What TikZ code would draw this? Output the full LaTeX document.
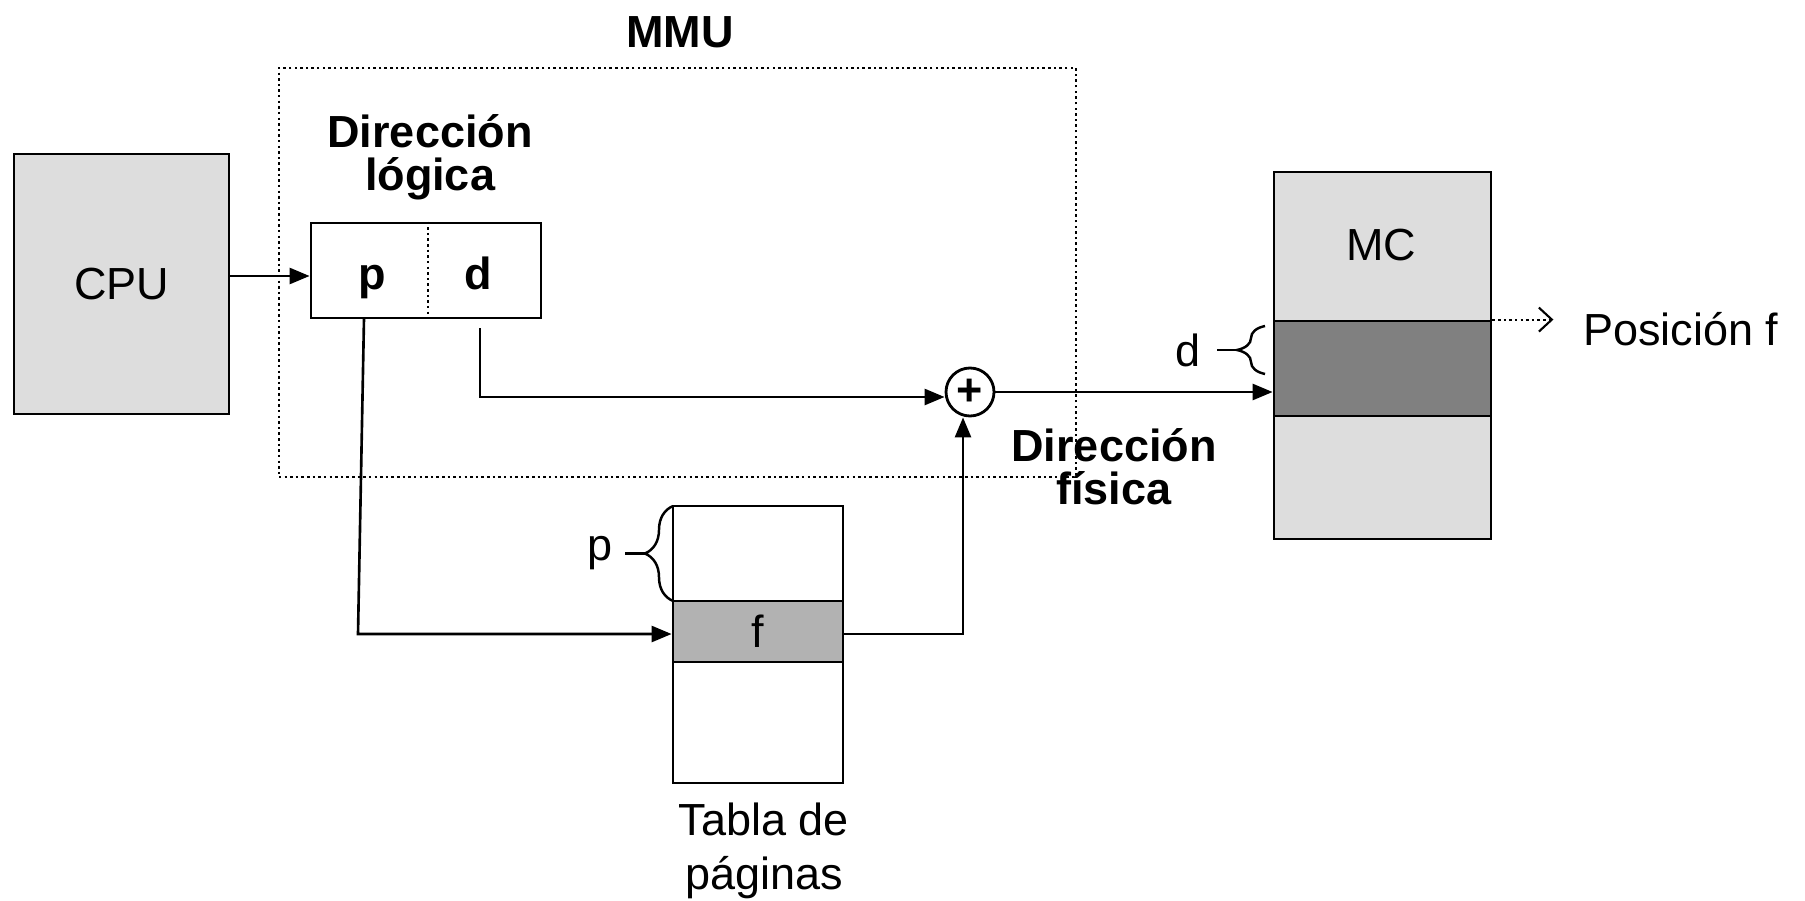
\documentclass[tikz,border=0pt]{standalone}
\usepackage{fontspec}
\setmainfont{Liberation Sans}
\usepackage{xcolor}
\usetikzlibrary{positioning, arrows.meta, decorations.pathreplacing}

\definecolor{cpugray}{HTML}{DDDDDD}
\definecolor{framegray}{HTML}{B2B2B2}
\definecolor{pagegray}{HTML}{808080}

\begin{document}
\begin{tikzpicture}[node distance = 0.1, font = \fontsize{12.8}{12.2}\selectfont]
            \tikzstyle{box} = [draw = black, line width = 0.8pt, rectangle, inner sep = 0pt]
            \tikzstyle{txt} = [inner sep = 1pt, align = center]
            \tikzstyle{heading} = [txt, font = \fontsize{12.8}{12.2}\selectfont\bfseries]
            \tikzstyle{flow} = [-{Triangle[length = 0.2cm, width = 0.16cm]}, line width = 0.75pt]
            \tikzstyle{dots} = [line width = 0.6pt, dash pattern = on 0.7pt off 0.9pt]
            \tikzstyle{curly} = [decorate, decoration = {brace, amplitude = 0.28cm}, line width = 0.7pt]

            \useasboundingbox (0, 0) rectangle (18.05, 9.00);

            \node [dots, draw, minimum width = 7.97cm, minimum height = 4.09cm] (MMU) at (6.775, 6.275) {};
            \node [heading] (MMUlabel) at (6.80, 8.68) {MMU};

            \node [box, fill = cpugray, minimum width = 2.15cm, minimum height = 2.60cm] (CPU) at (1.215, 6.16) {CPU};

            \node [heading] (logic) at (4.30, 7.43) {Dirección\\lógica};
            \node [box, minimum width = 2.30cm, minimum height = 0.95cm] (addr) at (4.26, 6.295) {};
            \node [heading, anchor = base] (p) at (3.72, 6.11) {p};
            \node [heading, anchor = base] (d) at (4.78, 6.11) {d};
            \coordinate (split) at (4.28, 6.295);
            \draw [dots] (split |- addr.north) -- (split |- addr.south);

            \node [circle, draw, line width = 0.8pt, minimum size = 0.48cm, inner sep = 0pt] (plus) at (9.70, 5.08) {\textbf{+}};

            \node [box, fill = white, minimum width = 1.70cm, minimum height = 2.77cm] (table) at (7.58, 2.555) {};
            \node [box, fill = framegray, minimum width = 1.70cm, minimum height = 0.61cm] (frame) at (7.58, 2.685) {f};
            \node [txt, font = \fontsize{12.8}{15.4}\selectfont] (tablelabel) at (7.64, 0.49) {Tabla de\\páginas};

            \node [box, fill = cpugray, minimum width = 2.17cm, minimum height = 3.67cm] (MC) at (13.825, 5.445) {};
            \node [box, fill = pagegray, minimum width = 2.17cm, minimum height = 0.95cm] (page) at (13.825, 5.315) {};
            \node [txt] (MClabel) at (13.81, 6.55) {MC};

            \node [heading] (phys) at (11.14, 4.33) {Dirección\\física};

            \coordinate (cpuout) at ([yshift = -0.055cm]addr.west);
            \draw [flow] (CPU.east |- cpuout) -- (cpuout);
            \coordinate (pstart) at (3.64, 5.82);
            \coordinate (pturn) at (3.58, 2.66);
            \draw [flow] (pstart) -- (pturn) -- ([yshift = -0.025cm]frame.west);
            \coordinate (dstart) at (4.80, 5.72);
            \draw [flow] (dstart) |- ([yshift = -0.05cm]plus.west);
            \draw [flow] ([yshift = -0.025cm]frame.east) -| ([xshift = -0.07cm]plus.south);
            \draw [flow] (plus.east) -- (plus.east -| MC.west);

            \draw [dots, -{Straight Barb[length = 0.13cm, width = 0.24cm]}] (page.north east) -- ++(0.61, 0) coordinate (posend);
            \node [txt, anchor = west] (pos) at (15.79, 5.71) {Posición f};

            \draw [curly] (6.73, 2.99) -- (6.73, 3.94);
            \coordinate (ptip) at (6.45, 3.465);
            \draw [line width = 0.7pt] (ptip) -- ++(-0.2, 0) coordinate (pdash);
            \node [txt, left = 0.08 of pdash] (plabel) {p};

            \draw [curly] (12.65, 5.26) -- (12.65, 5.74);
            \coordinate (dtip) at (12.37, 5.50);
            \draw [line width = 0.7pt] (dtip) -- ++(-0.2, 0) coordinate (ddash);
            \node [txt, left = 0.12 of ddash] (dlabel) {d};
        \end{tikzpicture}
\end{document}
